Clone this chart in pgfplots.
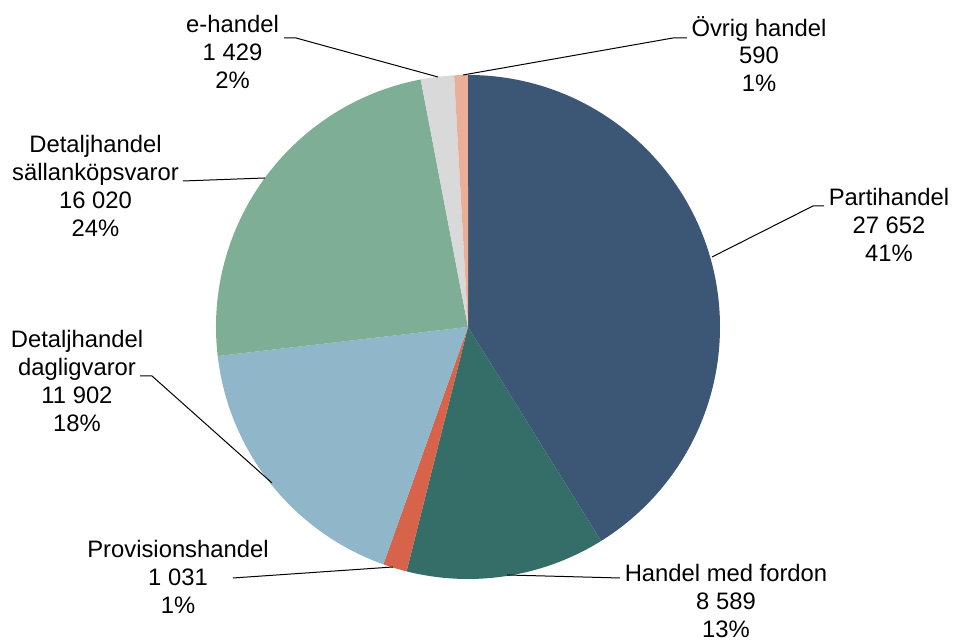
\documentclass[border=0pt]{standalone}
\usepackage{fontspec}
\setmainfont{Liberation Sans}
\usepackage{pgfplots}
\pgfplotsset{compat=1.18}
\usepackage{xcolor}
\definecolor{cParti}{HTML}{3B5775}
\definecolor{cFordon}{HTML}{356E69}
\definecolor{cProv}{HTML}{D6634A}
\definecolor{cDagl}{HTML}{8FB6C9}
\definecolor{cSall}{HTML}{7FAE96}
\definecolor{cEhandel}{HTML}{D9D9D9}
\definecolor{cOvrig}{HTML}{EBAF99}

% values (antal), clockwise from 12 o'clock
\def\vParti{27652}
\def\vFordon{8589}
\def\vProv{1031}
\def\vDagl{11902}
\def\vSall{16020}
\def\vEhandel{1429}
\def\vOvrig{590}

% cumulative angles, fpu because the sums are too big for plain pgfmath
\pgfkeys{/pgf/fpu=true,/pgf/fpu/output format=fixed}
\pgfmathsetmacro\tot{\vParti+\vFordon+\vProv+\vDagl+\vSall+\vEhandel+\vOvrig}
\pgfmathsetmacro\aA{90}
\pgfmathsetmacro\aB{\aA-360*\vParti/\tot}
\pgfmathsetmacro\aC{\aB-360*\vFordon/\tot}
\pgfmathsetmacro\aD{\aC-360*\vProv/\tot}
\pgfmathsetmacro\aE{\aD-360*\vDagl/\tot}
\pgfmathsetmacro\aF{\aE-360*\vSall/\tot}
\pgfmathsetmacro\aG{\aF-360*\vEhandel/\tot}
\pgfmathsetmacro\aH{\aG-360*\vOvrig/\tot}
\pgfkeys{/pgf/fpu=false}

% pixel-style coordinates: x right, y down from the top
\newcommand\px[2]{(axis cs:#1,{640-#2})}
\newcommand\slice[3]{\fill[#1] \px{468}{327} -- ++(#2:126pt)
  arc[start angle=#2, end angle=#3, radius=126pt] -- cycle;}

\tikzset{
  lbl/.style={align=center,inner sep=0pt,font=\fontsize{11.9}{13.9}\selectfont},
  lead/.style={black,line width=0.5pt},
}

\begin{document}
\begin{tikzpicture}
  \useasboundingbox (0,0) rectangle (477.5pt,320pt);
  \begin{axis}[
      scale only axis,
      width=477.5pt, height=320pt,
      xmin=0, xmax=955, ymin=0, ymax=640,
      hide axis, clip=false,
    ]
    \slice{cParti}{\aA}{\aB}
    \slice{cFordon}{\aB}{\aC}
    \slice{cProv}{\aC}{\aD}
    \slice{cDagl}{\aD}{\aE}
    \slice{cSall}{\aE}{\aF}
    \slice{cEhandel}{\aF}{\aG}
    \slice{cOvrig}{\aG}{\aH}

    % leader lines
    \draw[lead] \px{284}{38} -- \px{296}{38} -- \px{438}{77};
    \draw[lead] \px{687}{38} -- \px{673}{38} -- \px{463}{75};
    \draw[lead] \px{824}{206} -- \px{813}{206} -- \px{712}{257};
    \draw[lead] \px{183}{181} -- \px{265}{178};
    \draw[lead] \px{140}{376} -- \px{152}{376} -- \px{272}{483};
    \draw[lead] \px{233}{578} -- \px{393}{567};
    \draw[lead] \px{620}{578} -- \px{507}{575};

    % data labels
    \node[lbl] at \px{232.5}{52} {e-handel\\1 429\\2\%};
    \node[lbl] at \px{759}{54} {Övrig handel\\590\\1\%};
    \node[lbl] at \px{889}{225} {Partihandel\\27 652\\41\%};
    \node[lbl] at \px{95.5}{186} {Detaljhandel\\sällanköpsvaror\\16 020\\24\%};
    \node[lbl] at \px{77}{381} {Detaljhandel\\dagligvaror\\11 902\\18\%};
    \node[lbl] at \px{178}{577} {Provisionshandel\\1 031\\1\%};
    \node[lbl] at \px{726}{601} {Handel med fordon\\8 589\\13\%};
  \end{axis}
\end{tikzpicture}
\end{document}
